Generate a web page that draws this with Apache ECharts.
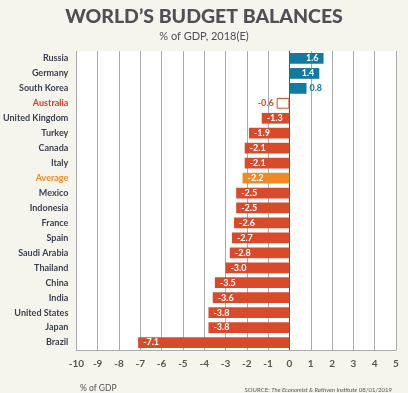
<!DOCTYPE html>
<html><head><meta charset="utf-8">
<script src="https://cdn.jsdelivr.net/npm/echarts@6/dist/echarts.min.js"></script>
<style>html,body{margin:0;padding:0;background:#f5f5ee;}#c{width:408px;height:393px;}</style>
</head><body><div id="c"></div>
<script>
const categories = ["Russia","Germany","South Korea","Australia","United Kingdom","Turkey","Canada","Italy","Average","Mexico","Indonesia","France","Spain","Saudi Arabia","Thailand","China","India","United States","Japan","Brazil"];
const values = [1.6,1.4,0.8,-0.6,-1.3,-1.9,-2.1,-2.1,-2.2,-2.5,-2.5,-2.6,-2.7,-2.8,-3.0,-3.5,-3.6,-3.8,-3.8,-7.1];
const xTicks = [-10,-9,-8,-7,-6,-5,-4,-3,-2,-1,0,1,2,3,4,5];

const BLUE='#107aa1', RED='#d84b2a', ORANGE='#ef8a25';
const data = values.map((v,i)=>{
  const c = categories[i];
  let item = {value:v};
  if (v>0) {
    item.itemStyle={color:BLUE};
    item.label = v>=1 ? {position:'insideRight',color:'#fff'} : {position:'right',color:BLUE,distance:3};
  } else if (c==='Australia') {
    item.itemStyle={color:'#fff',borderColor:RED,borderWidth:1};
    item.label={position:'left',color:RED,distance:3};
  } else if (c==='Average') {
    item.itemStyle={color:ORANGE};
    item.label={position:'insideLeft',color:'#fff'};
  } else {
    item.itemStyle={color:RED};
    item.label={position:'insideLeft',color:'#fff'};
  }
  return item;
});

const chart = echarts.init(document.getElementById('c'));
chart.setOption({
  backgroundColor:'#f5f5ee',
  textStyle:{fontFamily:'Lato'},
  title:[
    {text:"WORLD’S BUDGET BALANCES",left:'center',top:2,textStyle:{fontFamily:'Lato',fontWeight:900,fontSize:19.5,color:'#4f4f55'}},
    {text:"% of GDP, 2018(E)",left:'center',top:26,textStyle:{fontFamily:'Lato',fontWeight:'normal',fontSize:11,color:'#4f4f55'}},
    {text:"% of GDP",left:75,top:379,textStyle:{fontFamily:'Lato',fontWeight:'normal',fontSize:8.5,color:'#555'}},
    {text:"SOURCE: {i|The Economist & Rathven Institute} 08/01/2019",right:11,top:382,textStyle:{fontFamily:'Lato',fontWeight:'normal',fontSize:6,color:'#555',rich:{i:{fontStyle:'italic',fontSize:6,color:'#555',fontFamily:'Lato'}}}}
  ],
  grid:{left:74,right:12,top:51,bottom:43,show:true,backgroundColor:'#fff',borderWidth:0},
  xAxis:{type:'value',min:-10,max:5,interval:1,
    axisLine:{show:true,onZero:false,lineStyle:{color:'#aaa'}},
    axisTick:{show:false},
    splitLine:{show:true,lineStyle:{color:'#aaa',width:1}},
    axisLabel:{color:'#555',fontSize:10,fontWeight:'bold',margin:9,formatter:v=>xTicks.includes(v)?String(v):''}
  },
  yAxis:{type:'category',data:categories,inverse:true,
    axisLine:{show:true,onZero:true,lineStyle:{color:'#555'}},
    axisTick:{show:false},
    axisLabel:{fontSize:9,fontWeight:'bold',margin:8,color:(v)=>v==='Australia'?'#e03a2a':(v==='Average'?ORANGE:'#3c3f4f')}
  },
  series:[{type:'bar',data:data,barCategoryGap:'28%',
    label:{show:true,fontSize:9,fontWeight:'bold',formatter:p=>p.value.toFixed(1)},
    animation:false}]
});
</script></body></html>
